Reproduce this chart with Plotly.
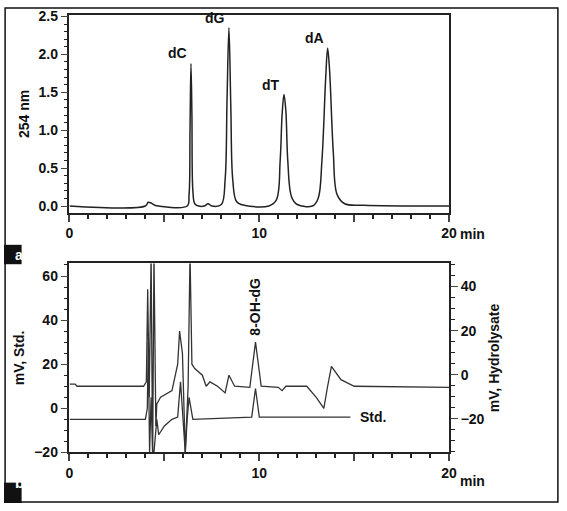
import plotly.graph_objects as go

# panel a: UV 254 nm trace
t_uv = [0, 4.0, 4.15, 4.3, 4.5, 4.7, 6.2, 6.3, 6.35, 6.4, 6.45, 6.5, 6.6, 6.8, 7.1, 7.3, 7.5,
        8.0, 8.2, 8.3, 8.4, 8.5, 8.6, 8.8, 9.2, 10.5, 10.9, 11.1, 11.2, 11.3, 11.4, 11.5, 11.7,
        12.0, 12.8, 13.1, 13.3, 13.5, 13.6, 13.7, 13.9, 14.1, 14.5, 15.5, 20]
a_uv = [0, 0.0, 0.05, 0.04, 0.01, 0, 0.0, 0.15, 1.0, 1.88, 1.2, 0.2, 0.03, 0.0, 0.0, 0.03, 0.0,
        0.02, 0.35, 1.4, 2.35, 1.3, 0.35, 0.06, 0.01, 0.0, 0.08, 0.6, 1.2, 1.47, 1.25, 0.6, 0.12,
        0.02, 0.0, 0.1, 0.6, 1.7, 2.08, 1.8, 0.7, 0.15, 0.03, 0.01, 0.0]
peak_names = ["dC", "dG", "dT", "dA"]
peak_t = [6.4, 8.4, 11.3, 13.6]
peak_h = [1.88, 2.35, 1.47, 2.08]

# panel b: ECD traces
t_hyd = [0, 0.3, 0.4, 3.9, 4.05, 4.12, 4.2, 4.3, 4.38, 4.45, 4.55, 4.6, 4.8, 5.4, 5.7, 5.8, 5.95,
         6.1, 6.25, 6.35, 6.45, 6.6, 7.0, 7.2, 7.4, 7.8, 8.2, 8.4, 8.7, 9.5, 9.8, 10.1, 11.0, 11.2,
         11.4, 12.5, 13.0, 13.4, 13.6, 13.8, 14.3, 15.0, 20]
v_hyd_left = [11, 11, 10, 10, 12, 54, 5, 70, -25, 70, -8, 2, 5, 8, 20, 35, 25,
              -20, 10, 70, 20, 18, 15, 10, 12, 10, 7, 15, 10, 9.5, 30, 10, 9.5, 8,
              10, 10, 5, 0, 10, 19, 13, 10, 9.5]
hyd_offset = 15.2  # right axis = left axis - offset
v_hyd = [v - hyd_offset for v in v_hyd_left]

t_std = [0, 4.0, 4.1, 4.15, 4.22, 4.3, 4.4, 4.6, 4.7, 5.0, 5.4, 5.7, 5.85, 6.0, 6.1, 6.2, 6.3,
         6.5, 9.6, 9.8, 10.0, 14.8]
v_std = [-5, -5, 0, 30, -20, 5, -25, -5, -12, -8, -5, -4, 12, -5, -20, -5, 5,
         -5, -4, 9, -4, -4]

font = dict(family="Liberation Sans", size=14, color="#111", weight="bold")
minor = lambda d: dict(dtick=d, ticks="outside", ticklen=4, tickcolor="#222")

fig = go.Figure()
fig.add_trace(go.Scatter(x=t_uv, y=a_uv, mode="lines", line=dict(color="#222", width=1.5, shape="spline"),
                         xaxis="x", yaxis="y", showlegend=False))
fig.add_trace(go.Scatter(x=t_hyd, y=v_hyd, mode="lines", line=dict(color="#333", width=1.3),
                         xaxis="x2", yaxis="y4", showlegend=False))
fig.add_trace(go.Scatter(x=t_std, y=v_std, mode="lines", line=dict(color="#333", width=1.3),
                         xaxis="x2", yaxis="y3", showlegend=False))

xax = dict(range=[0, 20], tickvals=[0, 5, 10, 15, 20], ticktext=["0", "", "10", "", "20"],
           ticks="outside", ticklen=7, tickwidth=1.5, linecolor="#222", linewidth=1.5,
           showgrid=False, zeroline=False, mirror=True, tickfont=font, minor=minor(1))
yax = dict(ticks="outside", ticklen=7, linecolor="#222", linewidth=1.5,
           showgrid=False, zeroline=False, tickfont=font)
fig.update_layout(
    autosize=True, margin=dict(l=0, r=0, t=0, b=0),
    paper_bgcolor="white", plot_bgcolor="white", font=font,
    xaxis=dict(xax, domain=[0.118, 0.802], anchor="y"),
    yaxis=dict(yax, domain=[0.585, 0.984], range=[-0.09, 2.52], dtick=0.5, tickformat=".1f", mirror=True,
               title=dict(text="254 nm", font=font, standoff=6), minor=minor(0.1)),
    xaxis2=dict(xax, domain=[0.118, 0.802], anchor="y3"),
    yaxis3=dict(yax, domain=[0.102, 0.483], range=[-20, 65.7], dtick=20, anchor="x2", mirror=True,
                title=dict(text="mV, Std.", font=font, standoff=6), minor=minor(5)),
    yaxis4=dict(yax, overlaying="y3", side="right", anchor="x2",
                range=[-20 - hyd_offset, 65.7 - hyd_offset], dtick=20,
                title=dict(text="mV, Hydrolysate", font=font, standoff=6), minor=minor(5)),
)

ann = []
for n, t, h in zip(peak_names, peak_t, peak_h):
    ann.append(dict(x=t, y=h, xref="x", yref="y", text=n, showarrow=False,
                    xanchor="right", yanchor="bottom", xshift=-2, font=font))
ann.append(dict(x=9.8, y=30 - hyd_offset, xref="x2", yref="y4", text="8-OH-dG", textangle=-90,
                showarrow=False, yanchor="bottom", yshift=4, font=font))
ann.append(dict(x=15.2, y=-4, xref="x2", yref="y3", text="Std.", showarrow=False,
                xanchor="left", font=font))
for y in [0.562, 0.064]:
    ann.append(dict(x=0.818, y=y, xref="paper", yref="paper", text="min", showarrow=False,
                    xanchor="left", yanchor="top", font=font))
ann.append(dict(x=9 / 567, y=1 - 255 / 511, xref="paper", yref="paper", text="a", showarrow=False,
                font=dict(family="Liberation Sans", size=14, color="white")))
ann.append(dict(x=9 / 567, y=10 / 511, xref="paper", yref="paper", text="b", showarrow=False,
                font=dict(family="Liberation Sans", size=15, color="white")))
fig.update_layout(annotations=ann)

shapes = [
    dict(type="rect", xref="paper", yref="paper", x0=0.002, y0=0.002, x1=0.998, y1=0.998,
         line=dict(color="#111", width=1.5)),
    dict(type="rect", xref="paper", yref="paper", x0=0, y0=1 - 265 / 511, x1=18 / 567, y1=1 - 245 / 511,
         fillcolor="#111", line=dict(width=0)),
    dict(type="rect", xref="paper", yref="paper", x0=0, y0=0, x1=18 / 567, y1=21 / 511,
         fillcolor="#111", line=dict(width=0)),
]
fig.update_layout(shapes=shapes)

fig.write_html("out.html", config=dict(displayModeBar=False, responsive=True),
               default_width="100vw", default_height="100vh",
               post_script="document.body.style.margin='0';document.documentElement.style.overflow='hidden';"
                           "document.body.style.overflow='hidden';Plotly.Plots.resize(document.getElementById('{plot_id}'));")
